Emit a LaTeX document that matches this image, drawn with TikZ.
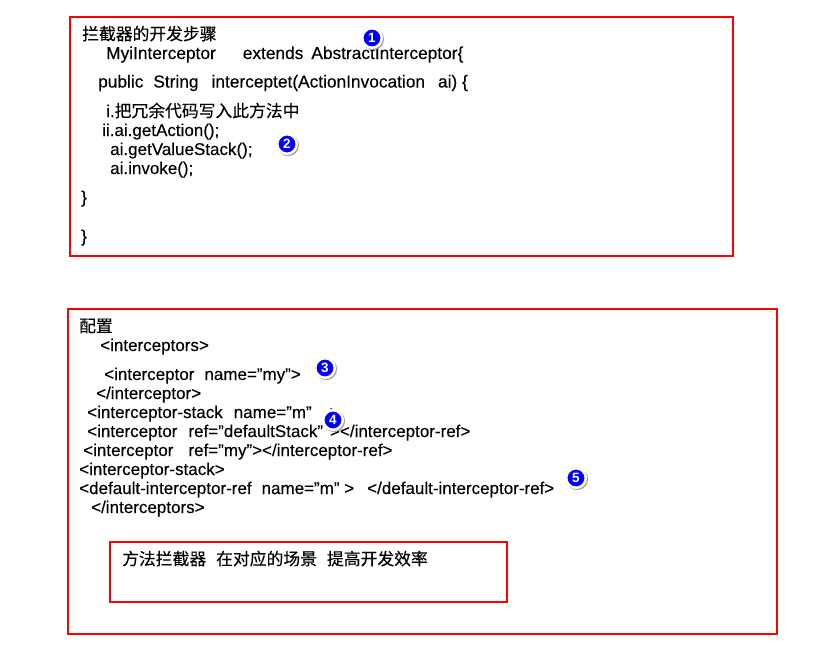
\documentclass[tikz,border=0pt]{standalone}
\usepackage{fontspec}
\setmainfont{Liberation Sans}[Ligatures=ResetAll,FakeBold=0.2]
\newfontfamily\cjk{Noto Sans CJK SC}[FakeBold=0.15]
\newfontfamily\digitfont{Liberation Sans}[Ligatures=ResetAll]
\usepackage{tikz}
\usetikzlibrary{shadows}

\tikzset{
    redbox/.style={draw=red, line width=2pt},
    codeline/.style={anchor=base west, inner sep=0pt, font=\fontsize{17}{19}\selectfont},
    widecode/.style={codeline, font=\fontsize{17.3}{19}\selectfont},
    cnline/.style={anchor=base west, inner sep=0pt, font=\fontsize{16.8}{19}\selectfont\cjk},
    badge/.style={circle, fill=blue, draw=white, line width=2.5pt, minimum size=19.5pt, inner sep=0pt,
        text=white, font=\fontsize{13.5}{13.5}\selectfont\digitfont\bfseries,
        drop shadow={shadow xshift=1pt, shadow yshift=-1pt, shadow scale=1.12, fill=black!38, draw=none, opacity=1}}
}

\begin{document}
\begin{tikzpicture}[x=1pt,y=-1pt]
    \useasboundingbox (0,0) rectangle (815,656);
    \fill[white] (0,0) rectangle (815,656);

    \draw[redbox] (70,17) rectangle (733,256);
    \draw[redbox] (68,309) rectangle (777,634);
    \draw[redbox] (110,542) rectangle (507,602);

    \node[cnline] (title) at (82,40) {拦截器的开发步骤};
    \node[widecode] (classline) at (106,59) {MyiInterceptor\hspace{27pt}extends\hspace{8pt}AbstractInterceptor\{};
    \node[widecode] (methodline) at (98,87.5) {public\hspace{10pt}String\hspace{13pt}interceptet(ActionInvocation\hspace{13pt}ai) \{};
    \node[codeline] (stepone) at (106,117) {i.{\cjk\fontsize{16.8}{19}\selectfont 把冗余代码写入此方法中}};
    \node[codeline] (steptwo) at (102,136) {ii.ai.getAction();};
    \node[codeline] (stepthree) at (110,155) {ai.getValueStack();};
    \node[codeline] (stepfour) at (110,174) {ai.invoke();};
    \node[codeline] (closeone) at (81,203) {\}};
    \node[codeline] (closetwo) at (81,242) {\}};

    \node[cnline] (config) at (79,332) {配置};
    \node[codeline] (open) at (100,351) {<interceptors>};
    \node[codeline] (named) at (104,380) {<interceptor\hspace{10pt}name="my">};
    \node[codeline] (endnamed) at (96,399) {</interceptor>};
    \node[codeline] (stack) at (87,418) {<interceptor-stack\hspace{11pt}name="m"\hspace{18pt}>};
    \node[codeline] (refdefault) at (87,437) {<interceptor\hspace{11pt}ref="defaultStack"\hspace{7pt}></interceptor-ref>};
    \node[codeline] (refmy) at (83,456) {<interceptor\hspace{15pt}ref="my"></interceptor-ref>};
    \node[codeline] (endstack) at (79,475) {<interceptor-stack>};
    \node[codeline] (defaultref) at (79,494) {<default-interceptor-ref\hspace{10pt}name="m" >\hspace{13pt}</default-interceptor-ref>};
    \node[codeline] (close) at (91,513) {</interceptors>};
    \node[cnline] (summary) at (122,565) {方法拦截器\hspace{10pt}在对应的场景\hspace{10pt}提高开发效率};

    \node[badge] (one) at (372,38) {1};
    \node[badge] (two) at (287,144) {2};
    \node[badge] (three) at (325,368) {3};
    \node[badge] (four) at (333,420) {4};
    \node[badge] (five) at (576,478) {5};
\end{tikzpicture}
\end{document}
